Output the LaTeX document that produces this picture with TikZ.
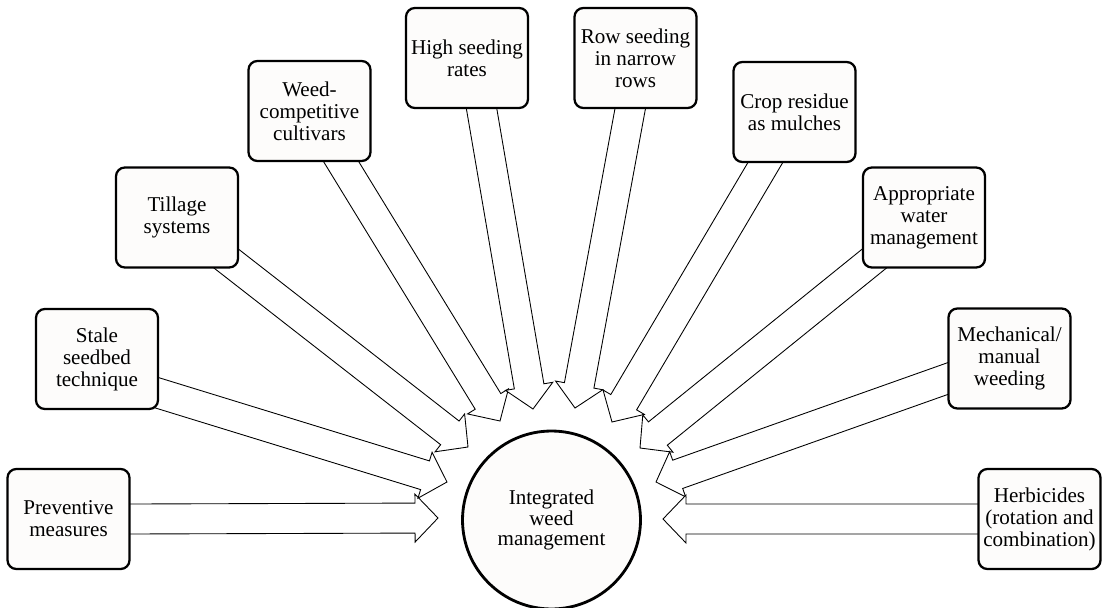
\documentclass[tikz,border=0pt]{standalone}
\usepackage{fontspec}
\setmainfont{Liberation Serif}
\usetikzlibrary{calc,backgrounds}
\definecolor{boxfill}{HTML}{FDFCFB}
\begin{document}
\begin{tikzpicture}[x=0.02cm,y=-0.02cm,
  methodbox/.style={draw,line width=1.3pt,rounded corners=5pt,fill=boxfill,
    minimum width=2.44cm,minimum height=2cm,align=center,inner sep=1pt,
    font=\fontsize{12}{12.5}\selectfont},
  hubnode/.style={draw,circle,line width=1.6pt,fill=boxfill,minimum size=3.56cm,
    align=center,inner sep=0pt,font=\fontsize{12}{11.5}\selectfont},
  fatarrow/.style={draw,fill=white,line width=0.5pt,line join=miter}]
\useasboundingbox (0,0) rectangle (1102,608);

\node[hubnode] (iwm) at (551.5,520) {Integrated\\weed\\management};

\node[methodbox] (prev)  at (68.5,519)   {Preventive\\measures};
\node[methodbox] (stale) at (97,359)     {Stale\\seedbed\\technique};
\node[methodbox] (till)  at (177,217.5)  {Tillage\\systems};
\node[methodbox] (weed)  at (309.5,111)  {Weed-\\competitive\\cultivars};
\node[methodbox] (high)  at (467,58)     {High seeding\\rates};
\node[methodbox] (row)   at (635.5,58)   {Row seeding\\in narrow\\rows};
\node[methodbox] (crop)  at (794.5,112)  {Crop residue\\as mulches};
\node[methodbox] (water) at (924,217.5)  {Appropriate\\water\\management};
\node[methodbox] (mech)  at (1009.5,358.5) {Mechanical/\\manual\\weeding};
\node[methodbox] (herb)  at (1039.5,519) {Herbicides\\(rotation and\\combination)};

\coordinate (t1) at (438,518);
\coordinate (t2) at (447,482);
\coordinate (t3) at (468,447);
\coordinate (t4) at (500,421);
\coordinate (t5) at (533,409);
\coordinate (t6) at (575,408);
\coordinate (t7) at (612,422);
\coordinate (t8) at (640,448);
\coordinate (t9) at (656,482);
\coordinate (t10) at (663,519);

\begin{pgfonlayer}{background}
\foreach \src/\tip in {prev.east/t1,stale.-29/t2,till.south east/t3,weed.-58/t4,
    high.-74/t5,row.-96/t6,crop.-120/t7,water.south west/t8,mech.198/t9,herb.west/t10}{
  \path ($(\src)!-0.5cm!(\tip)$) coordinate (tail) ($(\tip)!0.46cm!(\src)$) coordinate (neck);
  \draw[fatarrow] ($(tail)!0.3cm!90:(\tip)$) -- ($(neck)!0.3cm!90:(\tip)$)
    -- ($(neck)!0.48cm!90:(\tip)$) -- (\tip) -- ($(neck)!0.48cm!-90:(\tip)$)
    -- ($(neck)!0.3cm!-90:(\tip)$) -- ($(tail)!0.3cm!-90:(\tip)$) -- cycle;
}
\end{pgfonlayer}
\end{tikzpicture}
\end{document}
